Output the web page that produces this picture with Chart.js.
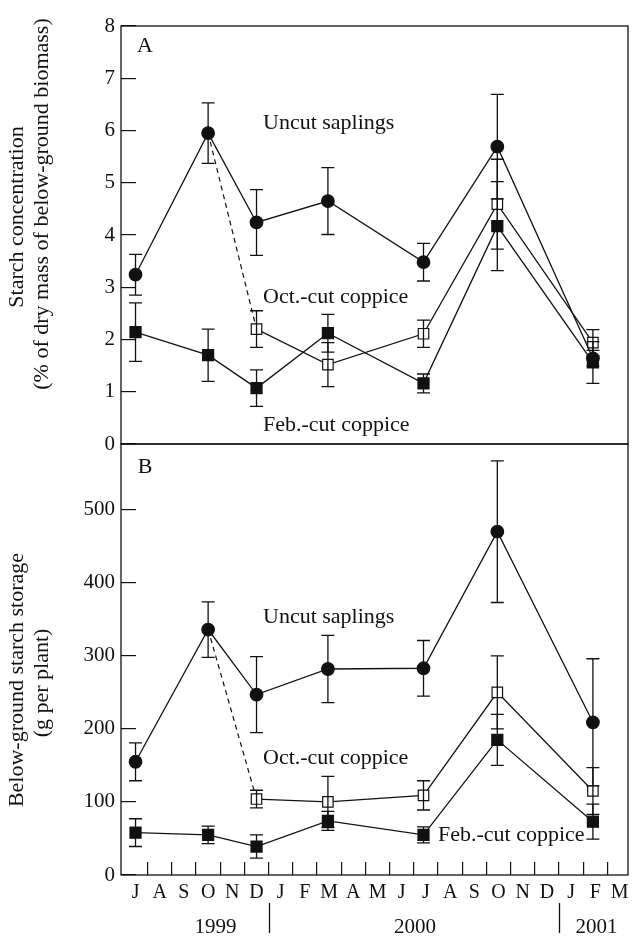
<!DOCTYPE html>
<html>
<head>
<meta charset="utf-8">
<script src="https://cdn.jsdelivr.net/npm/chart.js@4.4.1/dist/chart.umd.min.js"></script>
<style>
  body { margin: 0; background: #fff; }
  #page { position: relative; width: 632px; height: 936px; overflow: hidden; }
  #page canvas { position: absolute; left: 0; }
</style>
</head>
<body>
<div id="page">
  <canvas id="chartA" width="632" height="460" style="top:0"></canvas>
  <canvas id="chartB" width="632" height="500" style="top:436px"></canvas>
</div>
<script>
  // month axis, Jul 1999 .. Mar 2001
  const MONTHS = ['J', 'A', 'S', 'O', 'N', 'D', 'J', 'F', 'M', 'A', 'M', 'J', 'J', 'A', 'S', 'O', 'N', 'D', 'J', 'F', 'M'];
  const YEARS = ['1999', '2000', '2001'];
  // sampling dates, months after July 1999
  const SAMPLE_MONTH = [0, 3, 5, 7.95, 11.9, 14.95, 18.9];

  // A: starch concentration (% of dry mass)
  const TICKS_A = [0, 1, 2, 3, 4, 5, 6, 7, 8];
  const uncutConc = [3.24, 5.95, 4.24, 4.65, 3.48, 5.69, 1.64];
  const uncutConcErr = [0.39, 0.58, 0.63, 0.64, 0.36, 1.0, 0.15];
  const octConc = [null, null, 2.20, 1.52, 2.11, 4.59, 1.94];
  const octConcErr = [null, null, 0.35, 0.42, 0.26, 0.86, 0.25];
  const febConc = [2.14, 1.70, 1.07, 2.12, 1.16, 4.17, 1.56];
  const febConcErr = [0.56, 0.50, 0.35, 0.36, 0.18, 0.85, 0.40];

  // B: below-ground starch storage (g per plant)
  const TICKS_B = [0, 100, 200, 300, 400, 500];
  const uncutStore = [155, 336, 247, 282, 283, 470, 209];
  const uncutStoreErr = [26, 38, 52, 46, 38, 97, 87];
  const octStore = [null, null, 104, 100, 109, 250, 115];
  const octStoreErr = [null, null, 12, 35, 20, 50, 32];
  const febStore = [58, 55, 39, 74, 55, 185, 73];
  const febStoreErr = [19, 12, 16, 13, 11, 35, 24];

  const INK = '#111';
  const SERIF = '"Liberation Serif", "Times New Roman", serif';

  const CIRCLE = { pointStyle: 'circle', pointRadius: 6.3, pointBackgroundColor: INK };
  const OPEN_SQ = { pointStyle: 'rect', pointRadius: 7.4, pointBackgroundColor: '#fff' };
  const FILL_SQ = { pointStyle: 'rect', pointRadius: 7.8, pointBackgroundColor: INK };

  function series(values, errors, style) {
    return Object.assign({
      data: SAMPLE_MONTH.map((m, i) => ({ x: m, y: values[i] })),
      errors: errors,
      showLine: true,
      borderColor: INK,
      borderWidth: 1.3,
      pointBorderColor: INK,
      pointBorderWidth: 1.2
    }, style);
  }

  // dashed link from the uncut October value to the first Oct.-cut value
  function cutLink(uncut, oct) {
    return {
      data: [{ x: SAMPLE_MONTH[1], y: uncut[1] }, { x: SAMPLE_MONTH[2], y: oct[2] }],
      showLine: true,
      borderColor: INK,
      borderWidth: 1.2,
      borderDash: [5, 4],
      pointRadius: 0
    };
  }

  const errorBars = {
    id: 'errorBars',
    afterDatasetsDraw(chart) {
      const { ctx, scales: { x, y } } = chart;
      ctx.save();
      ctx.strokeStyle = INK;
      ctx.lineWidth = 1.3;
      chart.data.datasets.forEach(ds => {
        if (!ds.errors) return;
        ds.data.forEach((p, i) => {
          const e = ds.errors[i];
          if (p.y == null || e == null) return;
          const px = x.getPixelForValue(p.x);
          const top = y.getPixelForValue(p.y + e);
          const bot = y.getPixelForValue(p.y - e);
          ctx.beginPath();
          ctx.moveTo(px, top); ctx.lineTo(px, bot);
          ctx.moveTo(px - 6.5, top); ctx.lineTo(px + 6.5, top);
          ctx.moveTo(px - 6.5, bot); ctx.lineTo(px + 6.5, bot);
          ctx.stroke();
        });
      });
      ctx.restore();
    }
  };

  const frame = {
    id: 'frame',
    afterDraw(chart) {
      const { ctx, chartArea: { left, top, right, bottom } } = chart;
      ctx.save();
      ctx.strokeStyle = INK;
      ctx.lineWidth = 1.3;
      ctx.strokeRect(left, top, right - left, bottom - top);
      ctx.restore();
    }
  };

  const notes = {
    id: 'notes',
    afterDraw(chart, args, opts) {
      const ctx = chart.ctx;
      ctx.save();
      ctx.fillStyle = INK;
      ctx.textBaseline = 'middle';
      (opts.items || []).forEach(n => {
        ctx.save();
        ctx.font = (n.size || 22) + 'px ' + SERIF;
        ctx.textAlign = n.align || 'left';
        ctx.translate(n.x, n.y);
        if (n.rotate) ctx.rotate(-Math.PI / 2);
        ctx.fillText(n.text, 0, 0);
        ctx.restore();
      });
      // year row under the month labels
      if (opts.years) {
        const x = chart.scales.x;
        ctx.font = '21px ' + SERIF;
        ctx.textAlign = 'center';
        YEARS.forEach((yr, i) => ctx.fillText(yr, x.getPixelForValue(opts.years.at[i]), opts.years.y));
        ctx.strokeStyle = INK;
        ctx.lineWidth = 1.3;
        opts.years.breaks.forEach(b => {
          const px = Math.round(x.getPixelForValue(b)) + 0.5;
          ctx.beginPath();
          ctx.moveTo(px, opts.years.y - 24);
          ctx.lineTo(px, opts.years.y + 6);
          ctx.stroke();
        });
      }
      ctx.restore();
    }
  };

  function xScale(show) {
    return {
      type: 'linear',
      min: -0.6,
      max: 20.35,
      display: show,
      afterBuildTicks: s => { s.ticks = MONTHS.map((m, i) => ({ value: i })); },
      afterFit: s => {
        if (show) s.height = 61;
        s.paddingLeft = 0;
        s.paddingRight = 0;
      },
      grid: {
        offset: true,
        drawOnChartArea: false,
        tickLength: -13,
        lineWidth: 1.2,
        color: c => c.index === 0 ? 'rgba(0,0,0,0)' : INK
      },
      border: { display: false },
      ticks: {
        padding: 19,
        color: INK,
        maxRotation: 0,
        autoSkip: false,
        font: { family: SERIF, size: 20 },
        callback: (v, i) => MONTHS[i]
      }
    };
  }

  function yScale(max, tickList) {
    return {
      type: 'linear',
      min: 0,
      max: max,
      afterBuildTicks: s => { s.ticks = tickList.map(v => ({ value: v })); },
      afterFit: s => { s.width = 121; s.paddingTop = 0; s.paddingBottom = 0; },
      grid: { drawOnChartArea: false, tickLength: -15, lineWidth: 1.2, color: INK },
      border: { display: false },
      ticks: { padding: 21, color: INK, font: { family: SERIF, size: 21 } }
    };
  }

  const common = {
    animation: false,
    responsive: false,
    events: [],
    plugins: { legend: { display: false }, tooltip: { enabled: false } }
  };

  new Chart(document.getElementById('chartA'), {
    type: 'scatter',
    data: {
      datasets: [
        series(uncutConc, uncutConcErr, CIRCLE),
        series(octConc, octConcErr, OPEN_SQ),
        series(febConc, febConcErr, FILL_SQ),
        cutLink(uncutConc, octConc)
      ]
    },
    options: Object.assign({}, common, {
      layout: { autoPadding: false, padding: { top: 26, right: 4, bottom: 16, left: 0 } },
      scales: { x: xScale(false), y: yScale(8, TICKS_A) },
      plugins: Object.assign({}, common.plugins, {
        notes: {
          items: [
            { text: 'A', x: 145, y: 46, align: 'center' },
            { text: 'Uncut saplings', x: 263, y: 123 },
            { text: 'Oct.-cut coppice', x: 263, y: 297 },
            { text: 'Feb.-cut coppice', x: 263, y: 425 },
            { text: 'Starch concentration', x: 17, y: 217, align: 'center', rotate: true },
            { text: '(% of dry mass of below-ground biomass)', x: 42, y: 204, align: 'center', rotate: true }
          ]
        }
      })
    }),
    plugins: [errorBars, frame, notes]
  });

  new Chart(document.getElementById('chartB'), {
    type: 'scatter',
    data: {
      datasets: [
        series(uncutStore, uncutStoreErr, CIRCLE),
        series(octStore, octStoreErr, OPEN_SQ),
        series(febStore, febStoreErr, FILL_SQ),
        cutLink(uncutStore, octStore)
      ]
    },
    options: Object.assign({}, common, {
      layout: { autoPadding: false, padding: { top: 8, right: 4, bottom: 0, left: 0 } },
      scales: { x: xScale(true), y: yScale(590, TICKS_B) },
      plugins: Object.assign({}, common.plugins, {
        notes: {
          items: [
            { text: 'B', x: 145, y: 31, align: 'center' },
            { text: 'Uncut saplings', x: 263, y: 181 },
            { text: 'Oct.-cut coppice', x: 263, y: 322 },
            { text: 'Feb.-cut coppice', x: 438, y: 399 },
            { text: 'Below-ground starch storage', x: 17, y: 244, align: 'center', rotate: true },
            { text: '(g per plant)', x: 42, y: 247, align: 'center', rotate: true }
          ],
          years: { y: 491, at: [3.3, 11.55, 19.05], breaks: [5.5, 17.5] }
        }
      })
    }),
    plugins: [errorBars, frame, notes]
  });
</script>
</body>
</html>
